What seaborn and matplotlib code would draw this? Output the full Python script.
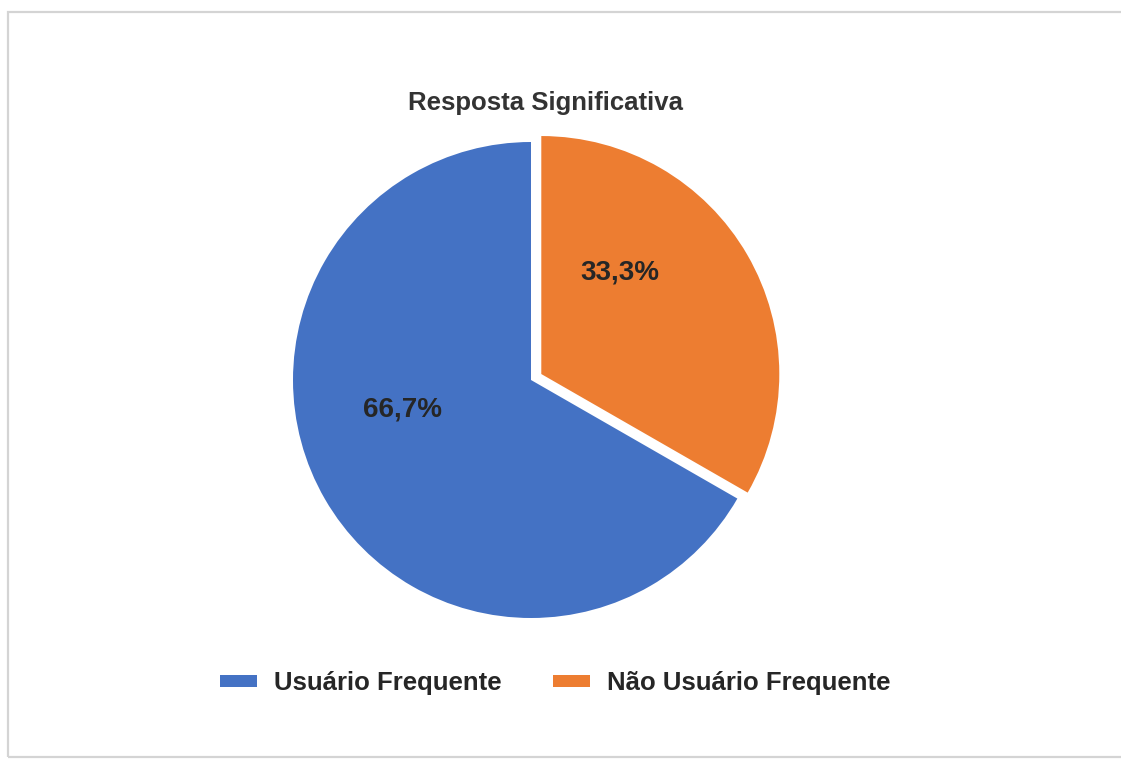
import matplotlib
matplotlib.use("Agg")
import matplotlib.pyplot as plt
import seaborn as sns
from matplotlib.patches import Rectangle

# dados do gráfico
categorias = ["Usuário Frequente", "Não Usuário Frequente"]
valores = [66.7, 33.3]
cores = ["#4472C4", "#ED7D31"]
titulo = "Resposta Significativa"

sns.set_theme(style="white")
plt.rcParams["font.family"] = ["Liberation Sans", "DejaVu Sans"]
texto = "#262626"

fig = plt.figure(figsize=(11.21, 7.62), dpi=100)
fig.patch.set_facecolor("white")

# moldura cinza clara em volta do gráfico
fig.patches.append(Rectangle((8 / 1121, 5 / 762), 1.2, 745 / 762, transform=fig.transFigure,
                             fill=False, edgecolor="#d4d4d4", linewidth=1.6))

# eixo quadrado: centro da pizza em (531, 380) px, raio 238 px
lado = 238 * 2.4
ax = fig.add_axes([(531 - lado / 2) / 1121, (382 - lado / 2) / 762, lado / 1121, lado / 762])

wedges, textos, pcts = ax.pie(
    valores,
    colors=cores,
    startangle=90,
    counterclock=True,
    explode=[0, 0.05],
    autopct=lambda p: f"{p:.1f}%".replace(".", ","),
    pctdistance=0.6,
    textprops=dict(color=texto, fontsize=20, fontweight="bold"),
    wedgeprops=dict(linewidth=0),
)
ax.set_xlim(-1.2, 1.2)
ax.set_ylim(-1.2, 1.2)
ax.set_aspect("equal")
ax.axis("off")

# posição dos rótulos como no original
pcts[0].set_position((-0.538, -0.126))
pcts[1].set_position((0.374, 0.450))
for t in pcts:
    t.set_ha("center")
    t.set_va("center")

fig.text(545 / 1121, 1 - 103 / 762, titulo, ha="center", va="center",
         fontsize=18.5, fontweight="bold", color="#333333")

leg = fig.legend(wedges, categorias, loc="center", bbox_to_anchor=(555 / 1121, 1 - 683 / 762),
                 ncol=2, frameon=False, handlelength=1.45, handleheight=0.35,
                 handletextpad=0.65, columnspacing=2.0,
                 prop=dict(size=18.5, weight="bold"))
for t in leg.get_texts():
    t.set_color(texto)

fig.savefig("out.png", dpi=100, facecolor="white")
